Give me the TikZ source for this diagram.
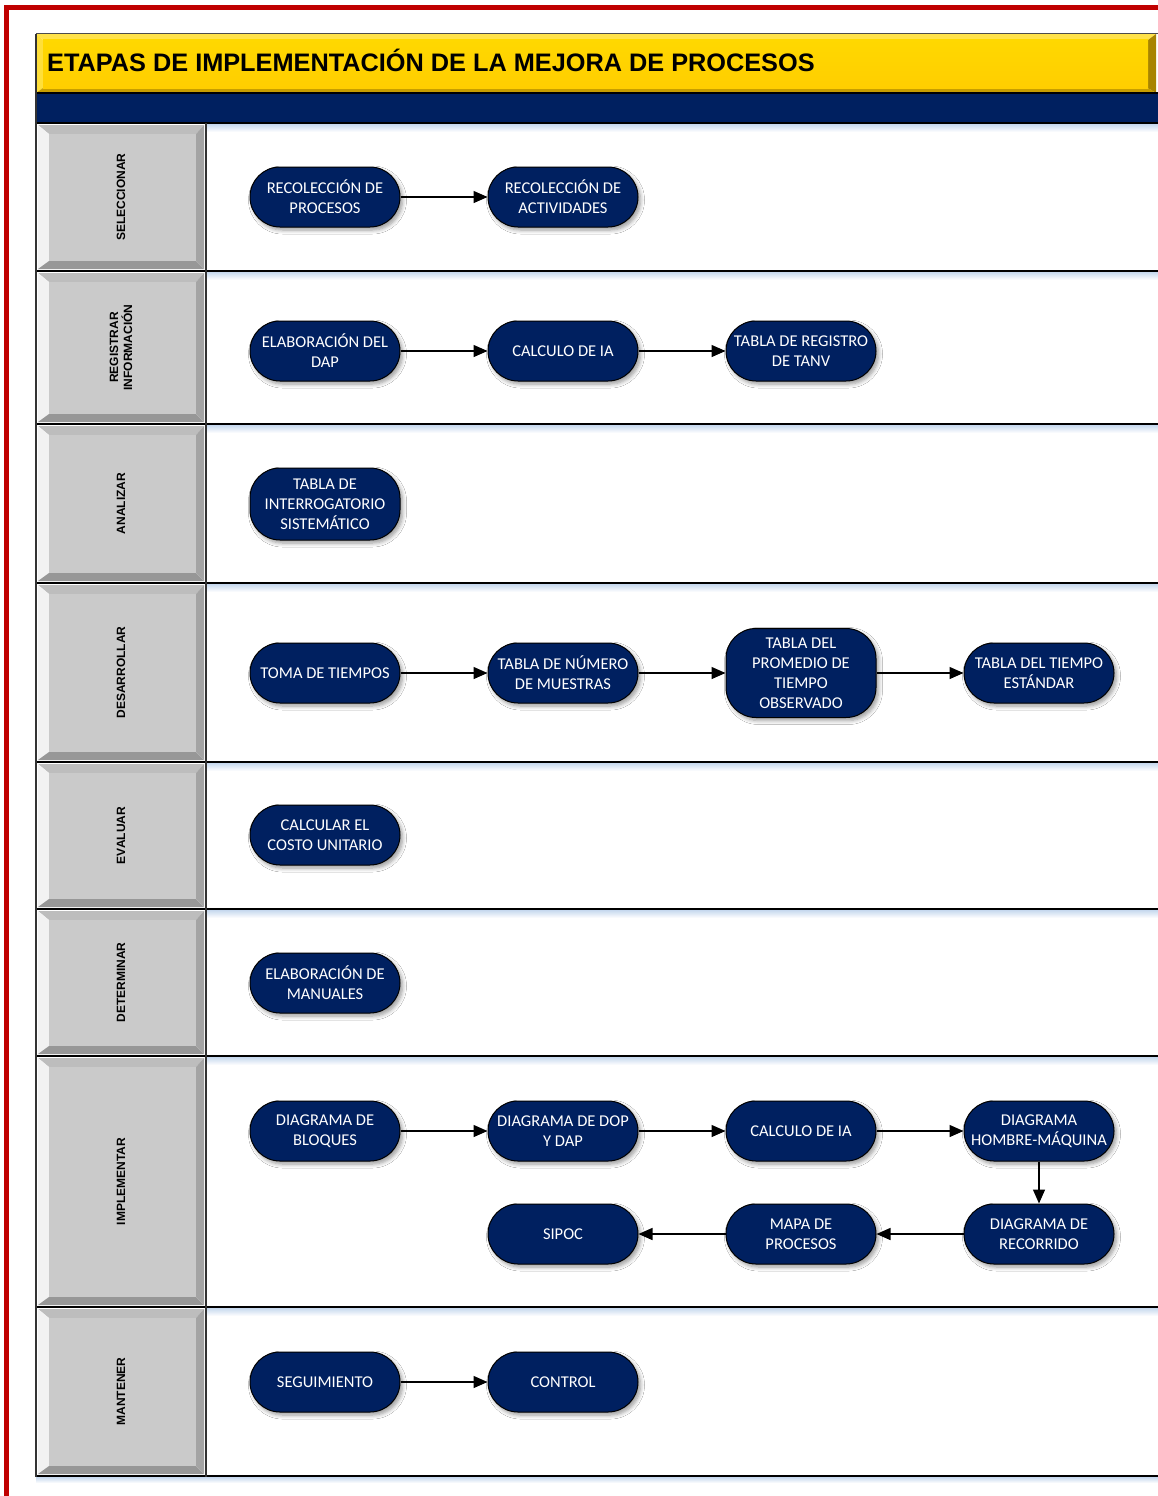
\documentclass[tikz,border=0pt]{standalone}
\usepackage{fontspec}
\setmainfont{Carlito}
\newfontfamily\arialfont{Liberation Sans}
\usetikzlibrary{arrows.meta,shadows.blur}

\definecolor{navy}{HTML}{002060}
\definecolor{framered}{HTML}{C00000}
\definecolor{goldface}{HTML}{FFCE00}
\definecolor{goldtop}{HTML}{FFE24A}
\definecolor{goldleft}{HTML}{FFDF3A}
\definecolor{goldbot}{HTML}{C79E00}
\definecolor{goldright}{HTML}{A88400}
\definecolor{laneface}{HTML}{CACACA}
\definecolor{lanetop}{HTML}{BDBDBD}
\definecolor{laneleft}{HTML}{F2F2F2}
\definecolor{lanebot}{HTML}{979797}
\definecolor{laneright}{HTML}{A4A4A4}
\definecolor{sepglow}{HTML}{C6D8EE}

\tikzset{
  redline/.style={draw=framered, line width=5pt},
  frameline/.style={draw=black!80, line width=1.6pt},
  sepline/.style={draw=black, line width=1.6pt},
  proc/.style={draw=black, line width=1pt, fill=navy, text=white,
    rounded corners=30pt, minimum width=150pt, minimum height=60pt,
    align=center, inner sep=2pt,
    font=\fontsize{16.5}{20}\selectfont,
    blur shadow={shadow xshift=2.5pt, shadow yshift=-3pt,
      shadow blur radius=4pt, shadow blur steps=6, shadow opacity=40}},
  lanelabel/.style={rotate=90, align=center, inner sep=0pt,
    font=\arialfont\bfseries\fontsize{12}{14}\selectfont},
  flow/.style={-{Triangle[length=14pt,width=12pt]}, line width=1.4pt},
}

% bevelled grey cell of the stage column: top, bottom, node name, label
\newcommand{\lanecell}[4]{%
  \fill[lanetop]   (38,#1+2) -- (204,#1+2) -- (196,#1+11) -- (49,#1+11) -- cycle;
  \fill[laneleft]  (38,#1+2) -- (49,#1+11) -- (49,#2-10) -- (38,#2-2) -- cycle;
  \fill[lanebot]   (38,#2-2) -- (49,#2-10) -- (196,#2-10) -- (204,#2-2) -- cycle;
  \fill[laneright] (204,#1+2) -- (204,#2-2) -- (196,#2-10) -- (196,#1+11) -- cycle;
  \fill[laneface]  (49,#1+11) rectangle (196,#2-10);
  \node[lanelabel] (#3) at (121,{(#1+#2)/2}) {#4};
}

\begin{document}
\begin{tikzpicture}[x=1pt,y=-1pt]
\useasboundingbox (0,0) rectangle (1157,1496);
\fill[white] (0,0) rectangle (1157,1496);

% outer red border
\draw[redline] (6,1500) -- (6,8) -- (1160,8);

% title bar with bevel
\fill[goldtop]   (36,34) -- (1156,34) -- (1148,40) -- (43,40) -- cycle;
\fill[goldleft]  (36,34) -- (43,40) -- (43,88) -- (36,93) -- cycle;
\fill[goldbot]   (36,93) -- (43,88) -- (1148,88) -- (1156,93) -- cycle;
\fill[goldright] (1156,34) -- (1156,93) -- (1148,88) -- (1148,40) -- cycle;
\shade[top color=goldface!80!yellow, bottom color=goldface] (43,40) rectangle (1148,88);
\node[anchor=base west, inner sep=0pt,
      font=\arialfont\bfseries\fontsize{25.3}{30}\selectfont] (title)
      at (47,71.5) {ETAPAS DE IMPLEMENTACIÓN DE LA MEJORA DE PROCESOS};

% navy band
\fill[navy] (36,93) rectangle (1160,123);
\draw[draw=black!70, line width=1pt] (36,34) -- (1160,34);
\draw[sepline] (36,93) -- (1160,93);

% stage column
\lanecell{123}{271}{lsel}{SELECCIONAR}
\lanecell{271}{424}{lreg}{REGISTRAR\\INFORMACIÓN}
\lanecell{424}{583}{lana}{ANALIZAR}
\lanecell{583}{762}{ldes}{DESARROLLAR}
\lanecell{762}{909}{leva}{EVALUAR}
\lanecell{909}{1056}{ldet}{DETERMINAR}
\lanecell{1056}{1307}{limp}{IMPLEMENTAR}
\lanecell{1307}{1476}{lman}{MANTENER}

% soft glow under each lane line
\foreach \y in {123,271,424,583,762,909,1056,1307}
  \shade[top color=sepglow, bottom color=white] (207,\y+1) rectangle (1160,\y+9);
\shade[top color=sepglow, bottom color=white] (36,1477) rectangle (1160,1483);

% lane lines and frame
\foreach \y in {123,271,424,583,762,909,1056,1307,1476}
  \draw[sepline] (36,\y) -- (1160,\y);
\draw[frameline] (36,34) -- (36,1477);
\draw[frameline] (206,123) -- (206,1477);

% SELECCIONAR
\node[proc] (a1) at (325,197) {RECOLECCIÓN DE\\PROCESOS};
\node[proc] (a2) at (563,197) {RECOLECCIÓN DE\\ACTIVIDADES};

% REGISTRAR INFORMACIÓN
\node[proc] (b1) at (325,351) {ELABORACIÓN DEL\\DAP};
\node[proc] (b2) at (563,351) {CALCULO DE IA};
\node[proc] (b3) at (801,351) {TABLA DE REGISTRO\\DE TANV};

% ANALIZAR
\node[proc, minimum height=72pt] (c1) at (325,504) {TABLA DE\\INTERROGATORIO\\SISTEMÁTICO};

% DESARROLLAR
\node[proc] (d1) at (325,673) {TOMA DE TIEMPOS};
\node[proc] (d2) at (563,673) {TABLA DE NÚMERO\\DE MUESTRAS};
\node[proc, minimum height=89pt] (d3) at (801,673) {TABLA DEL\\PROMEDIO DE\\TIEMPO\\OBSERVADO};
\node[proc] (d4) at (1039,673) {TABLA DEL TIEMPO\\ESTÁNDAR};

% EVALUAR
\node[proc] (e1) at (325,835) {CALCULAR EL\\COSTO UNITARIO};

% DETERMINAR
\node[proc] (f1) at (325,983) {ELABORACIÓN DE\\MANUALES};

% IMPLEMENTAR
\node[proc] (g1) at (325,1131) {DIAGRAMA DE\\BLOQUES};
\node[proc] (g2) at (563,1131) {DIAGRAMA DE DOP\\Y DAP};
\node[proc] (g3) at (801,1131) {CALCULO DE IA};
\node[proc] (g4) at (1039,1131) {DIAGRAMA\\HOMBRE-MÁQUINA};
\node[proc] (g5) at (1039,1234) {DIAGRAMA DE\\RECORRIDO};
\node[proc] (g6) at (801,1234) {MAPA DE\\PROCESOS};
\node[proc] (g7) at (563,1234) {SIPOC};

% MANTENER
\node[proc] (h1) at (325,1382) {SEGUIMIENTO};
\node[proc] (h2) at (563,1382) {CONTROL};

% connectors
\draw[flow] (a1) -- (a2);
\draw[flow] (b1) -- (b2);
\draw[flow] (b2) -- (b3);
\draw[flow] (d1) -- (d2);
\draw[flow] (d2) -- (d3);
\draw[flow] (d3) -- (d4);
\draw[flow] (g1) -- (g2);
\draw[flow] (g2) -- (g3);
\draw[flow] (g3) -- (g4);
\draw[flow] (g4) -- (g5);
\draw[flow] (g5) -- (g6);
\draw[flow] (g6) -- (g7);
\draw[flow] (h1) -- (h2);
\end{tikzpicture}
\end{document}
